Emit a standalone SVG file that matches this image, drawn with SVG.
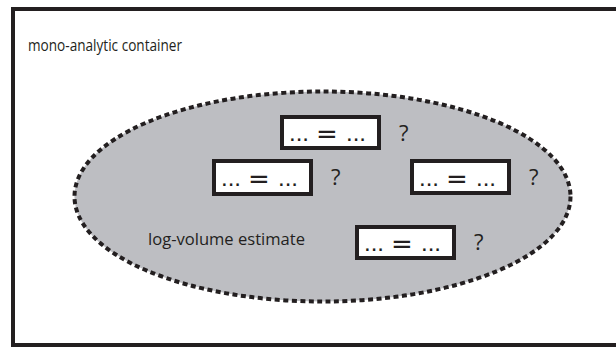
<svg xmlns="http://www.w3.org/2000/svg" width="616" height="347" viewBox="0 0 616 347">
<style>
.lbl{font-family:"Open Sans","Liberation Sans",sans-serif;font-size:15.5px;fill:#231f20}
.box{fill:#ffffff;stroke:#231f20;stroke-width:4}
.dots{font-family:"Liberation Sans",sans-serif;font-size:24px;fill:#231f20}
.eq{font-family:"DejaVu Sans",sans-serif;font-size:26px;fill:#231f20}
.q{font-family:"Open Sans","Liberation Sans",sans-serif;font-size:22px;fill:#231f20}
</style>
<rect id="container" x="13" y="9" width="620" height="336" fill="#ffffff" stroke="#231f20" stroke-width="4"/>
<text class="lbl" x="28" y="50.5" textLength="154" lengthAdjust="spacingAndGlyphs">mono-analytic container</text>
<g id="estimate">
<ellipse cx="322.5" cy="196.5" rx="248" ry="105" fill="#bdbec2" stroke="#231f20" stroke-width="4" stroke-dasharray="5 3.5"/>
<text class="lbl" x="148" y="245" textLength="157" lengthAdjust="spacingAndGlyphs">log-volume estimate</text>
</g>
<g id="eq1">
<rect class="box" x="282" y="117" width="97" height="31"/>
<text class="dots" x="289" y="141">...</text><text class="eq" x="316" y="143">=</text><text class="dots" x="346" y="141">...</text>
<text class="q" x="399" y="141">?</text>
</g>
<g id="eq2">
<rect class="box" x="214" y="161" width="97" height="33"/>
<text class="dots" x="221" y="186">...</text><text class="eq" x="248" y="188">=</text><text class="dots" x="278" y="186">...</text>
<text class="q" x="331" y="185">?</text>
</g>
<g id="eq3">
<rect class="box" x="412" y="161" width="97" height="32"/>
<text class="dots" x="419" y="186">...</text><text class="eq" x="446" y="188">=</text><text class="dots" x="476" y="186">...</text>
<text class="q" x="529" y="185">?</text>
</g>
<g id="eq4">
<rect class="box" x="357" y="227" width="97" height="31"/>
<text class="dots" x="364" y="251">...</text><text class="eq" x="391" y="253">=</text><text class="dots" x="421" y="251">...</text>
<text class="q" x="474" y="250">?</text>
</g>
<g id="connectors"></g>
</svg>
